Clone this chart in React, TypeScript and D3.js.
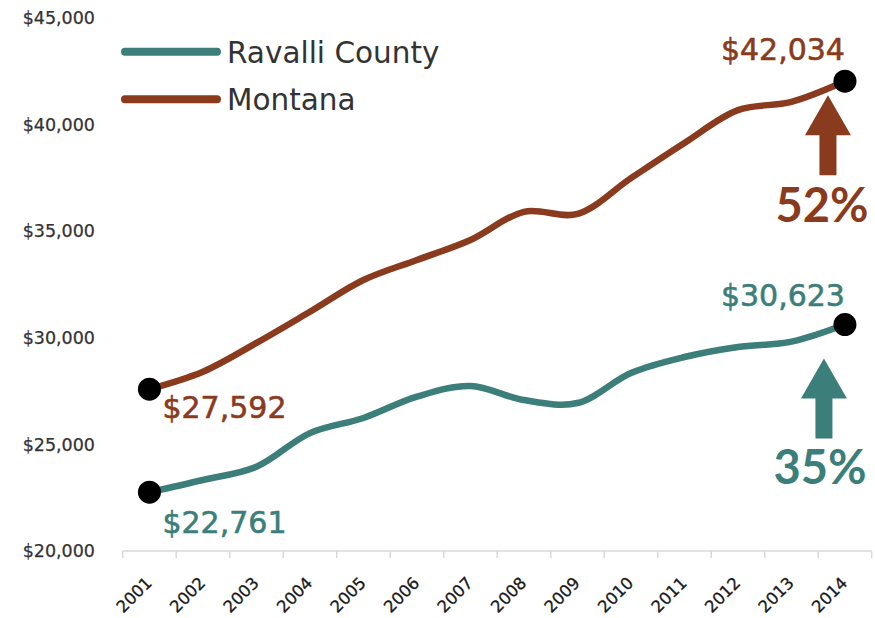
import React from "react";
import * as d3 from "d3";

const years = ["2001","2002","2003","2004","2005","2006","2007","2008","2009","2010","2011","2012","2013","2014"];
const ravalli = [22761, 23330, 23950, 25530, 26240, 27240, 27740, 27080, 26940, 28350, 29100, 29570, 29820, 30623];
const montana = [27592, 28410, 29760, 31220, 32710, 33650, 34590, 35910, 35810, 37490, 39140, 40680, 41070, 42034];
const yTicks = [20000, 25000, 30000, 35000, 40000, 45000];
const seriesNames = ["Ravalli County", "Montana"];
const growth = ["35%", "52%"];

const TEAL = "#3b7e7a";
const BROWN = "#8a3b1e";
const W = 875, H = 618;

export default function App() {
  const x = d3.scaleBand<string>().domain(years).range([122.7, 871.7]).padding(0);
  const cx = (yr: string) => (x(yr) as number) + x.bandwidth() / 2;
  const y = d3.scaleLinear().domain([20000, 45000]).range([551, 18]);
  const line = d3.line<number>().x((_, i) => cx(years[i])).y(v => y(v)).curve(d3.curveCatmullRom.alpha(0.5));
  const fmt = (v: number) => "$" + d3.format(",")(v);
  const first = years[0], last = years[years.length - 1];
  const n = years.length - 1;

  const arrow = (xc: number, top: number, color: string) => {
    const hw = 23, sw = 8.5, headH = 40, total = 80;
    const pts = [
      [xc, top], [xc + hw, top + headH], [xc + sw, top + headH], [xc + sw, top + total],
      [xc - sw, top + total], [xc - sw, top + headH], [xc - hw, top + headH],
    ];
    return <polygon points={pts.map(p => p.join(",")).join(" ")} fill={color} />;
  };

  const valStyle = (c: string) => ({ fontFamily: "DejaVu Sans", fontSize: 30, fill: c, stroke: c, strokeWidth: 0.6 });

  return (
    <svg width={W} height={H} style={{ position: "absolute", left: 0, top: 0, background: "#fff" }}>
      {/* y tick labels */}
      {yTicks.map(t => (
        <text key={t} x={95} y={y(t)} dy="0.35em" textAnchor="end" fontFamily="DejaVu Sans" fontSize={17.5}
          fill="#333" stroke="#333" strokeWidth={0.25}>
          {fmt(t)}
        </text>
      ))}
      {/* x axis */}
      <line x1={x.range()[0]} x2={x.range()[1]} y1={551} y2={551} stroke="#d9d9d9" strokeWidth={1.5} />
      {years.map(yr => (
        <line key={"t" + yr} x1={x(yr) as number} x2={x(yr) as number} y1={551} y2={558} stroke="#d9d9d9" strokeWidth={1.5} />
      ))}
      <line x1={x.range()[1]} x2={x.range()[1]} y1={551} y2={558} stroke="#d9d9d9" strokeWidth={1.5} />
      {years.map(yr => (
        <text key={"l" + yr} transform={`translate(${cx(yr) + 3.5},${584}) rotate(-45)`} textAnchor="end"
          fontFamily="DejaVu Sans" fontSize={16.5} fill="#1a1a1a" stroke="#1a1a1a" strokeWidth={0.3}>{yr}</text>
      ))}
      {/* lines */}
      <path d={line(montana) as string} fill="none" stroke={BROWN} strokeWidth={6.5} strokeLinecap="round" />
      <path d={line(ravalli) as string} fill="none" stroke={TEAL} strokeWidth={6.5} strokeLinecap="round" />
      {/* end dots */}
      {[[first, montana[0]], [first, ravalli[0]], [last, montana[n]], [last, ravalli[n]]].map(([yr, v], i) => (
        <circle key={"c" + i} cx={cx(yr as string)} cy={y(v as number)} r={11.5} fill="#000" />
      ))}
      {/* value labels */}
      <text x={cx(first) + 13} y={y(montana[0]) + 29} {...valStyle(BROWN)}>{fmt(montana[0])}</text>
      <text x={cx(first) + 13} y={y(ravalli[0]) + 41} {...valStyle(TEAL)}>{fmt(ravalli[0])}</text>
      <text x={cx(last)} y={y(montana[n]) - 21} textAnchor="end" {...valStyle(BROWN)}>{fmt(montana[n])}</text>
      <text x={cx(last)} y={y(ravalli[n]) - 19} textAnchor="end" {...valStyle(TEAL)}>{fmt(ravalli[n])}</text>
      {/* arrows */}
      {arrow(cx(last) - 17, y(montana[n]) + 14, BROWN)}
      {arrow(cx(last) - 21, y(ravalli[n]) + 34, TEAL)}
      <text x={cx(last) - 23} y={y(montana[n]) + 141} textAnchor="middle" fontFamily="Lato" fontWeight="bold" fontSize={47} fill={BROWN}>{growth[1]}</text>
      <text x={cx(last) - 25} y={y(ravalli[n]) + 159} textAnchor="middle" fontFamily="Lato" fontWeight="bold" fontSize={47} fill={TEAL}>{growth[0]}</text>
      {/* legend */}
      {[TEAL, BROWN].map((c, i) => (
        <g key={"lg" + i} transform={`translate(0,${51.7 + i * 47.5})`}>
          <line x1={125} x2={217} y1={0} y2={0} stroke={c} strokeWidth={8} strokeLinecap="round" />
          <text x={227} y={11} fontFamily="DejaVu Sans" fontSize={29.5} fill="#333">{seriesNames[i]}</text>
        </g>
      ))}
    </svg>
  );
}
